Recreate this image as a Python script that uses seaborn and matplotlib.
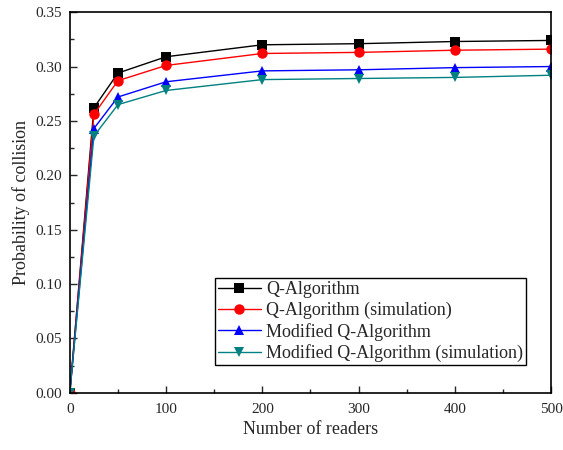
import matplotlib
matplotlib.use('Agg')
from matplotlib import pyplot as plt
from matplotlib.ticker import MultipleLocator, FormatStrFormatter
import seaborn as sns
import pandas as pd

# data
readers = [0, 25, 50, 100, 200, 300, 400, 500]
q_alg = [0.0, 0.262, 0.294, 0.309, 0.320, 0.321, 0.323, 0.324]
q_alg_sim = [0.0, 0.256, 0.287, 0.301, 0.312, 0.313, 0.315, 0.316]
mod_q = [0.0, 0.243, 0.272, 0.286, 0.296, 0.297, 0.299, 0.300]
mod_q_sim = [0.0, 0.236, 0.265, 0.278, 0.288, 0.289, 0.290, 0.292]

names = ['Q-Algorithm', 'Q-Algorithm (simulation)', 'Modified Q-Algorithm',
         'Modified Q-Algorithm (simulation)']
series = [q_alg, q_alg_sim, mod_q, mod_q_sim]
rows = []
for n, s in zip(names, series):
    for x, y in zip(readers, s):
        rows.append({'readers': x, 'prob': y, 'series': n})
df = pd.DataFrame(rows)

sns.set_style('ticks')
plt.rcParams['font.family'] = ['Liberation Serif', 'DejaVu Serif']
plt.rcParams['xtick.direction'] = 'in'
plt.rcParams['ytick.direction'] = 'in'

fig = plt.figure(figsize=(5.63, 4.5), dpi=100)
ax = fig.add_axes([0.124, 0.127, 0.855, 0.846])

palette = {names[0]: 'black', names[1]: 'red', names[2]: 'blue', names[3]: '#008080'}
markers = {names[0]: 's', names[1]: 'o', names[2]: '^', names[3]: 'v'}
sns.lineplot(data=df, x='readers', y='prob', hue='series', style='series',
             palette=palette, markers=markers, dashes=False, markersize=7.5,
             markeredgewidth=0, linewidth=1, ax=ax)

ax.set_xlim(0, 500)
ax.set_ylim(0, 0.35)
ax.xaxis.set_major_locator(MultipleLocator(100))
ax.xaxis.set_minor_locator(MultipleLocator(50))
ax.yaxis.set_major_locator(MultipleLocator(0.05))
ax.yaxis.set_minor_locator(MultipleLocator(0.025))
ax.yaxis.set_major_formatter(FormatStrFormatter('%.2f'))
ax.tick_params(which='major', length=5, width=1, labelsize=11, top=False, right=False)
ax.tick_params(axis='x', which='major', pad=7)
ax.tick_params(axis='y', which='major', pad=5.5)
ax.tick_params(which='minor', length=3, width=1)
for sp in ax.spines.values():
    sp.set_linewidth(1.2)
    sp.set_color('black')

ax.set_xlabel('Number of readers', fontsize=13)
ax.set_ylabel('Probability of collision', fontsize=13)

leg = ax.legend(loc='lower right', bbox_to_anchor=(0.948, 0.0735), fontsize=13,
                frameon=True, fancybox=False, edgecolor='black', framealpha=1,
                handlelength=2.4, borderpad=0.15, labelspacing=0.2, handletextpad=0.3,
                borderaxespad=0)
leg.get_frame().set_linewidth(1)

fig.savefig('out.png', dpi=100)
